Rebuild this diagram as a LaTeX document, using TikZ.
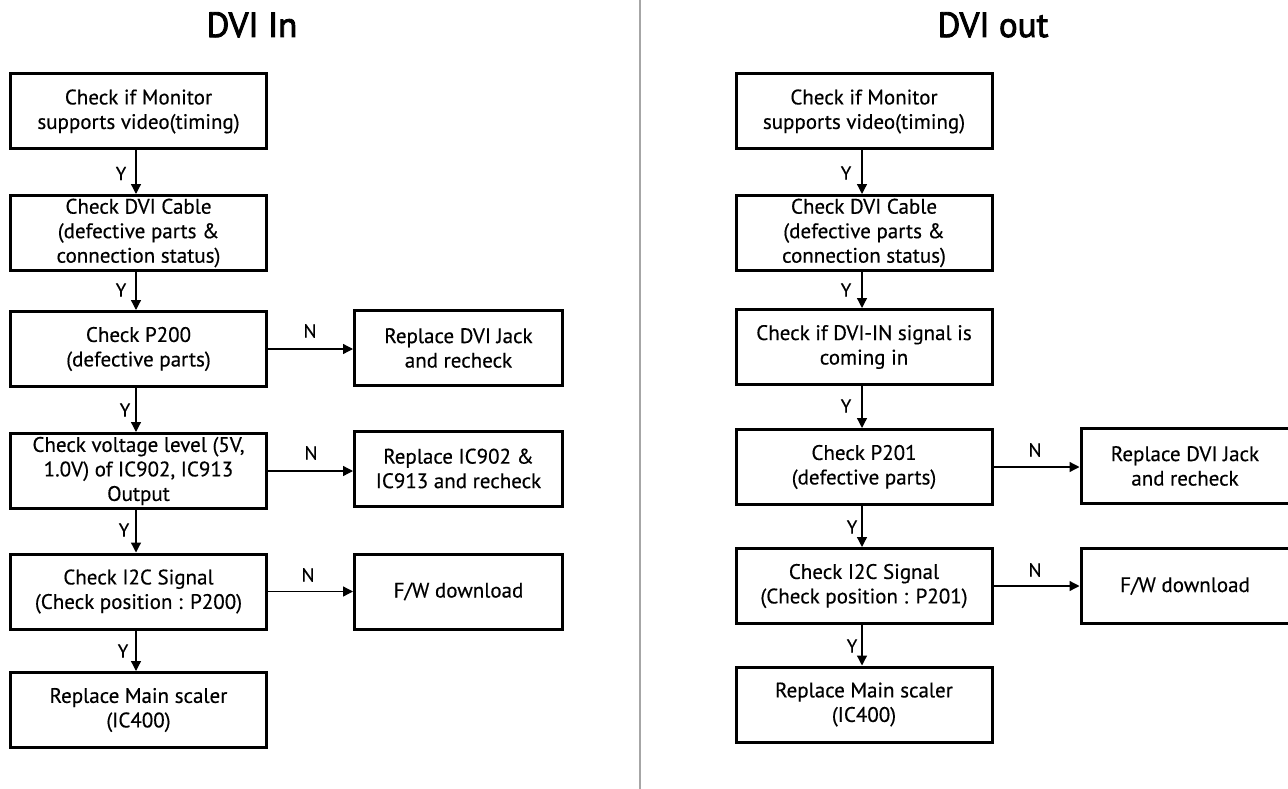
\documentclass[tikz,border=0pt]{standalone}
\usepackage{fontspec}
\setmainfont{PT Sans}[FakeBold=0.4]
\newfontfamily\titlefont{PT Sans}[FakeBold=2.5]
\usetikzlibrary{arrows.meta}
\definecolor{divgray}{HTML}{A6A6A6}
\tikzset{
  flowbox/.style={draw=black, line width=3pt, fill=white, align=center, inner sep=1pt,
    font=\fontsize{21}{24.5}\selectfont, minimum height=75pt},
  mainbox/.style={flowbox, minimum width=256pt},
  sidebox/.style={flowbox, minimum width=208pt},
  flowarrow/.style={line width=1.3pt, -{Triangle[length=10pt,width=10pt]}},
  lbl/.style={inner sep=0pt, font=\fontsize{19}{22}\selectfont},
  titletext/.style={inner sep=0pt, font=\fontsize{35}{40}\titlefont, anchor=base}
}
\begin{document}
\begin{tikzpicture}[x=1pt,y=-1pt]
\useasboundingbox (0,0) rectangle (1288,789);
\fill[white] (0,0) rectangle (1288,789);
% divider
\coordinate (dtop) at (640,0);
\coordinate (dbot) at (640,789);
\draw[divgray, line width=2pt] (dtop) -- (dbot);
% titles
\node[titletext] (t1) at (252,37) {DVI In};
\node[titletext] (t2) at (993,37) {DVI out};
% left column
\node[mainbox] (a1) at (138.5,111.5) {Check if Monitor\\supports video(timing)};
\node[mainbox] (a2) at (138.5,233) {Check DVI Cable\\(defective parts \&\\connection status)};
\node[mainbox] (a3) at (138.5,349) {Check P200\\(defective parts)};
\node[mainbox] (a4) at (138.5,471) {Check voltage level (5V,\\1.0V) of IC902, IC913\\Output};
\node[mainbox] (a5) at (138.5,591.5) {Check I2C Signal\\(Check position : P200)};
\node[mainbox] (a6) at (138.5,710) {Replace Main scaler\\(IC400)};
\node[sidebox] (n1) at (458.5,348) {Replace DVI Jack\\and recheck};
\node[sidebox] (n2) at (458.5,468.5) {Replace IC902 \&\\IC913 and recheck};
\node[sidebox] (n3) at (458.5,591.5) {F/W download};
\coordinate (ax) at (136,0);
\draw[flowarrow] (a1.south -| ax) -- (a2.north -| ax);
\draw[flowarrow] (a2.south -| ax) -- (a3.north -| ax);
\draw[flowarrow] (a3.south -| ax) -- (a4.north -| ax);
\draw[flowarrow] (a4.south -| ax) -- (a5.north -| ax);
\draw[flowarrow] (a5.south -| ax) -- (a6.north -| ax);
\draw[flowarrow] (a3.east) -- (n1.west |- a3.east);
\draw[flowarrow] (a4.east) -- (n2.west |- a4.east);
\draw[flowarrow] (a5.east) -- (n3.west |- a5.east);
\node[lbl] (ya1) at (121,173.5) {Y};
\node[lbl] (ya2) at (121,290) {Y};
\node[lbl] (ya3) at (125,410) {Y};
\node[lbl] (ya4) at (124,530) {Y};
\node[lbl] (ya5) at (123,651) {Y};
\node[lbl] (na1) at (310,331) {N};
\node[lbl] (na2) at (311,453) {N};
\node[lbl] (na3) at (308,575) {N};
% right column
\node[mainbox] (b1) at (864,111.5) {Check if Monitor\\supports video(timing)};
\node[mainbox] (b2) at (864,233) {Check DVI Cable\\(defective parts \&\\connection status)};
\node[mainbox] (b3) at (864,347) {Check if DVI-IN signal is\\coming in};
\node[mainbox] (b4) at (864,467) {Check P201\\(defective parts)};
\node[mainbox] (b5) at (864,586) {Check I2C Signal\\(Check position : P201)};
\node[mainbox] (b6) at (864,704.5) {Replace Main scaler\\(IC400)};
\node[sidebox] (m1) at (1185,466) {Replace DVI Jack\\and recheck};
\node[sidebox] (m2) at (1185,586) {F/W download};
\coordinate (bx) at (862,0);
\draw[flowarrow] (b1.south -| bx) -- (b2.north -| bx);
\draw[flowarrow] (b2.south -| bx) -- (b3.north -| bx);
\draw[flowarrow] (b3.south -| bx) -- (b4.north -| bx);
\draw[flowarrow] (b4.south -| bx) -- (b5.north -| bx);
\draw[flowarrow] (b5.south -| bx) -- (b6.north -| bx);
\draw[flowarrow] (b4.east) -- (m1.west |- b4.east);
\draw[flowarrow] (b5.east) -- (m2.west |- b5.east);
\node[lbl] (yb1) at (846,173) {Y};
\node[lbl] (yb2) at (846,290) {Y};
\node[lbl] (yb3) at (846,406) {Y};
\node[lbl] (yb4) at (852,527) {Y};
\node[lbl] (yb5) at (852,646) {Y};
\node[lbl] (nb1) at (1035,450) {N};
\node[lbl] (nb2) at (1035,570) {N};
\end{tikzpicture}
\end{document}
